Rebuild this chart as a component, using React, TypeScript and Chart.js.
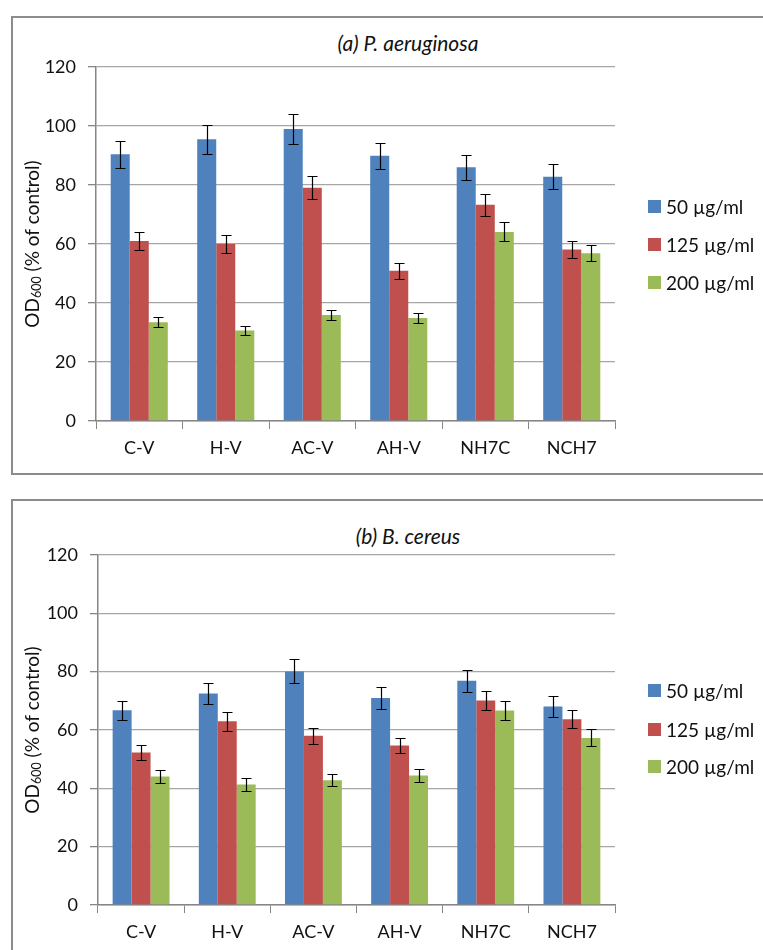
import React, { useEffect, useRef } from 'react';
import { Chart, registerables } from 'chart.js';

Chart.register(...registerables);

// ---------- data ----------
const categories = ['C-V', 'H-V', 'AC-V', 'AH-V', 'NH7C', 'NCH7'];
const seriesLabels = ['50 µg/ml', '125 µg/ml', '200 µg/ml'];
const seriesColors = ['#4F81BD', '#C0504D', '#9BBB59'];

const titleA = '(a) P. aeruginosa';
const titleB = '(b) B. cereus';
const yTitleMain = 'OD';
const yTitleSub = '600';
const yTitleRest = ' (% of control)';

const yMin = 0;
const yMax = 120;
const yStep = 20;

// (a) P. aeruginosa
const pa50 = [90.4, 95.5, 99.0, 89.9, 86.0, 82.8];
const pa125 = [61.0, 60.0, 79.1, 50.9, 73.3, 58.1];
const pa200 = [33.5, 30.7, 35.9, 34.9, 64.1, 56.9];
const paErr50 = [4.5, 4.9, 5.1, 4.4, 4.3, 4.2];
const paErr125 = [3.2, 3.0, 4.0, 2.7, 3.7, 3.0];
const paErr200 = [1.7, 1.5, 1.8, 1.8, 3.2, 2.8];

// (b) B. cereus
const bc50 = [66.8, 72.5, 80.1, 71.0, 76.9, 68.1];
const bc125 = [52.3, 63.0, 58.0, 54.7, 70.1, 63.7];
const bc200 = [44.1, 41.3, 42.8, 44.4, 66.7, 57.3];
const bcErr50 = [3.3, 3.6, 4.1, 3.7, 3.8, 3.5];
const bcErr125 = [2.6, 3.3, 2.8, 2.7, 3.4, 3.1];
const bcErr200 = [2.1, 2.1, 2.1, 2.3, 3.4, 2.9];

// ---------- styles ----------
const FONT = 'Lato, "Open Sans", sans-serif';
const TEXT = '#111111';
const GRID = '#a6a6a6';
const AXIS = '#868686';

const errorBarPlugin = {
  id: 'errorBars',
  afterDatasetsDraw(chart: any) {
    const ctx = chart.ctx;
    const y = chart.scales.y;
    ctx.save();
    ctx.strokeStyle = '#000';
    ctx.lineWidth = 1.2;
    chart.data.datasets.forEach((ds: any, i: number) => {
      const meta = chart.getDatasetMeta(i);
      meta.data.forEach((bar: any, j: number) => {
        const v = ds.data[j];
        const e = ds.errors[j];
        const x = Math.round(bar.x) + 0.5;
        const yt = Math.round(y.getPixelForValue(v + e)) + 0.5;
        const yb = Math.round(y.getPixelForValue(v - e)) + 0.5;
        ctx.beginPath();
        ctx.moveTo(x, yt);
        ctx.lineTo(x, yb);
        ctx.moveTo(x - 5, yt);
        ctx.lineTo(x + 5, yt);
        ctx.moveTo(x - 5, yb);
        ctx.lineTo(x + 5, yb);
        ctx.stroke();
      });
    });
    ctx.restore();
  },
};

const yTitlePlugin = {
  id: 'yTitle',
  afterDraw(chart: any, _args: any, opts: any) {
    const ctx = chart.ctx;
    const { top, bottom } = chart.chartArea;
    const cy = (top + bottom) / 2;
    const cx = opts.x;
    const big = `19px ${FONT}`;
    const small = `12.5px ${FONT}`;
    ctx.save();
    ctx.translate(cx, cy);
    ctx.rotate(-Math.PI / 2);
    ctx.fillStyle = TEXT;
    ctx.textBaseline = 'middle';
    ctx.textAlign = 'left';
    ctx.font = big;
    const w1 = ctx.measureText(yTitleMain).width;
    const w3 = ctx.measureText(yTitleRest).width;
    ctx.font = small;
    const w2 = ctx.measureText(yTitleSub).width;
    const x0 = -(w1 + w2 + w3) / 2;
    ctx.font = big;
    ctx.fillText(yTitleMain, x0, 0);
    ctx.font = small;
    ctx.fillText(yTitleSub, x0 + w1, 3.5);
    ctx.font = big;
    ctx.fillText(yTitleRest, x0 + w1 + w2, 0);
    ctx.restore();
  },
};

type PanelProps = {
  values: number[][];
  errors: number[][];
  left: number;
  top: number;
  width: number;
  height: number;
  padTop: number;
  padRight: number;
  yAxisWidth: number;
  xAxisHeight: number;
};

function BarPanel(p: PanelProps) {
  const ref = useRef<HTMLCanvasElement | null>(null);
  useEffect(() => {
    if (!ref.current) return;
    const chart = new Chart(ref.current, {
      type: 'bar',
      data: {
        labels: categories,
        datasets: p.values.map((vals, i) => ({
          label: seriesLabels[i],
          data: vals,
          errors: p.errors[i],
          backgroundColor: seriesColors[i],
          borderWidth: 0,
        })) as any,
      },
      options: {
        responsive: false,
        animation: false,
        devicePixelRatio: 1,
        layout: { padding: { top: p.padTop, right: p.padRight, bottom: 0, left: 0 } },
        datasets: { bar: { categoryPercentage: 0.66, barPercentage: 1 } },
        plugins: {
          legend: { display: false },
          tooltip: { enabled: false },
          title: { display: false },
          yTitle: { x: 20 },
        } as any,
        scales: {
          x: {
            offset: true,
            grid: {
              offset: true,
              drawOnChartArea: false,
              drawTicks: true,
              tickLength: 8,
              color: AXIS,
            },
            border: { color: AXIS, width: 1.5 },
            ticks: { font: { family: FONT, size: 18 }, color: TEXT, padding: 8 },
            afterFit: (s: any) => {
              s.height = p.xAxisHeight;
            },
          },
          y: {
            min: yMin,
            max: yMax,
            ticks: { stepSize: yStep, font: { family: FONT, size: 18 }, color: TEXT, padding: 12 },
            grid: { color: GRID, lineWidth: 1.3, tickLength: 8, tickColor: AXIS },
            border: { color: AXIS, width: 1.5 },
            afterFit: (s: any) => {
              s.width = p.yAxisWidth;
            },
          },
        },
      },
      plugins: [errorBarPlugin, yTitlePlugin],
    });
    return () => chart.destroy();
  }, []);
  return (
    <canvas
      ref={ref}
      width={p.width}
      height={p.height}
      style={{ position: 'absolute', left: p.left, top: p.top, width: p.width, height: p.height }}
    />
  );
}

function Legend({ rows }: { rows: number[] }) {
  return (
    <>
      {seriesLabels.map((lab, i) => (
        <div
          key={lab}
          style={{
            position: 'absolute',
            left: 648,
            top: rows[i] - 11,
            height: 22,
            display: 'flex',
            alignItems: 'center',
            fontFamily: FONT,
            fontSize: 19,
            color: TEXT,
            whiteSpace: 'nowrap',
          }}
        >
          <span style={{ display: 'inline-block', width: 13, height: 13, background: seriesColors[i], marginRight: 5 }} />
          <span>{lab}</span>
        </div>
      ))}
    </>
  );
}

function Title({ text, baseline }: { text: string; baseline: number }) {
  return (
    <div
      style={{
        position: 'absolute',
        left: 0,
        width: 816,
        top: baseline - 20.7,
        lineHeight: '25px',
        fontSize: 21,
        fontFamily: FONT,
        fontStyle: 'italic',
        textAlign: 'center',
        color: TEXT,
        whiteSpace: 'nowrap',
      }}
    >
      {text}
    </div>
  );
}

export default function App() {
  return (
    <div
      style={{
        position: 'fixed',
        left: 0,
        top: 0,
        width: 763,
        height: 950,
        overflow: 'hidden',
        background: '#fff',
      }}
    >
      <div
        style={{
          position: 'absolute',
          left: 11,
          top: 16,
          width: 900,
          height: 459,
          boxSizing: 'border-box',
          border: '2px solid #8c8c8c',
        }}
      />
      <div
        style={{
          position: 'absolute',
          left: 11,
          top: 499,
          width: 900,
          height: 600,
          boxSizing: 'border-box',
          border: '2px solid #8c8c8c',
        }}
      />
      <Title text={titleA} baseline={51} />
      <Title text={titleB} baseline={544} />
      <BarPanel
        values={[pa50, pa125, pa200]}
        errors={[paErr50, paErr125, paErr200]}
        left={13}
        top={18}
        width={750}
        height={455}
        padTop={49}
        padRight={148}
        yAxisWidth={83}
        xAxisHeight={52}
      />
      <BarPanel
        values={[bc50, bc125, bc200]}
        errors={[bcErr50, bcErr125, bcErr200]}
        left={13}
        top={502}
        width={750}
        height={448}
        padTop={53}
        padRight={148}
        yAxisWidth={85}
        xAxisHeight={45}
      />
      <Legend rows={[206.7, 244.7, 282.7]} />
      <Legend rows={[690.7, 729, 766.7]} />
    </div>
  );
}
